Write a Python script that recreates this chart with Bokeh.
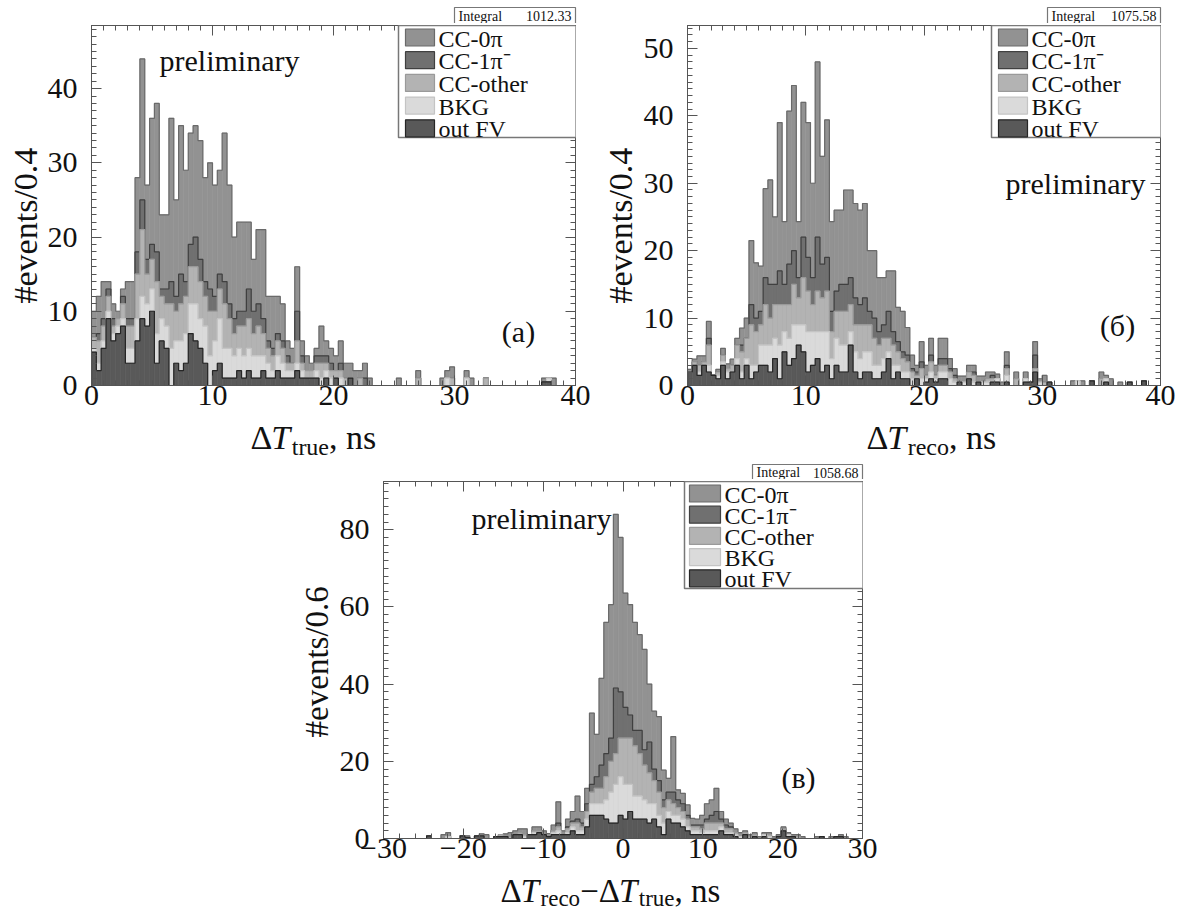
import numpy as np
from bokeh.plotting import figure
from bokeh.models import Range1d, FixedTicker, LinearAxis, Label, BoxAnnotation, Spacer
from bokeh.layouts import row, column
from bokeh.embed import file_html
from bokeh.resources import INLINE

FONT = "Liberation Serif"

# legend order (top to bottom) and stacking order (bottom to top)
SERIES = ["CC-0π", "CC-1π⁻", "CC-other", "BKG", "out FV"]
STACK = ["out FV", "BKG", "CC-other", "CC-1π⁻", "CC-0π"]
FILL = {"CC-0π": "#929292", "CC-1π⁻": "#707070", "CC-other": "#b3b3b3",
        "BKG": "#dadada", "out FV": "#595959"}
EDGE = {"CC-0π": "#6a6a6a", "CC-1π⁻": "#404040", "CC-other": "#9a9a9a",
        "BKG": "#c4c4c4", "out FV": "#262626"}

# ---------------- panel (a): dT_true, bins of 0.4 ns starting at 0 ----------------
A_BIN0, A_BINW = 0.0, 0.4
A_OUTFV = [4.5, 2, 5, 9, 6, 7, 8, 3, 3, 6,
           9, 8, 10, 3, 6, 5, 0, 3, 2, 3,
           7, 6, 5, 3, 0, 2, 3, 1, 1, 1,
           2, 1, 2, 1, 1, 2, 1, 1, 2, 1,
           1, 1, 2, 1, 1, 1, 1, 0, 1, 0,
           1, 0, 0, 1, 0, 0, 0, 0, 0, 0,
           0, 0, 0, 0, 0, 0, 0, 0, 0, 0,
           0, 0, 0, 0, 0, 0, 0, 0, 0, 0,
           0, 0, 0, 0, 0, 0, 0, 0, 0, 0,
           0, 0, 0, 0.5, 0.5, 0, 0, 0, 0, 0]
A_BKG = [0.5, 1, 1, 1, 1, 1, 1, 2, 2, 3,
         3, 3, 3, 4, 3, 3, 5, 3, 4, 4,
         4, 5, 4, 5, 4, 4, 6, 4, 4, 3,
         3, 3, 3, 3, 3, 2, 2, 1, 2, 2,
         1, 1, 1, 1, 0, 0, 1, 1, 1, 1,
         0, 1, 0, 0, 0, 0, 0, 0, 0, 0,
         0, 0, 0, 0, 0, 0, 0, 0, 0, 0,
         0, 0, 0, 1, 0, 0, 0, 1, 0, 0,
         0, 0, 0, 0, 0, 0, 0, 0, 0, 0,
         0, 0, 0, 0, 0.5, 0, 0, 0, 0, 0]
A_OTHER = [1.5, 3, 2, 2, 1, 1, 2, 3, 3, 6,
           9, 4, 4, 7, 3, 3, 6, 4, 5, 5,
           5, 5, 5, 4, 6, 4, 4, 6, 4, 3,
           3, 4, 4, 3, 4, 3, 2, 2, 2, 2,
           1, 1, 3, 1, 1, 1, 1, 2, 1, 1,
           1, 1, 1, 0, 0, 1, 0, 0, 0, 0,
           0, 0, 0, 0, 0, 0, 0, 1, 0, 0,
           0, 0, 0, 0, 1, 0, 0, 0, 0, 0,
           0, 1, 0, 0, 0, 0, 0, 0, 0, 0,
           0, 0, 0, 0, 0, 0, 0, 0, 0, 0]
A_1PI = [0, 1, 1, 1, 1, 0, 1, 1, 1, 3,
         4, 2, 2, 4, 1, 2, 3, 2, 4, 2,
         3, 4, 3, 2, 3, 2, 2, 3, 2, 2,
         2, 2, 4, 3, 3, 2, 1, 1, 1, 1,
         1, 0, 4, 1, 0, 0, 1, 1, 1, 1,
         0, 1, 0, 0, 0, 0, 1, 0, 0, 0,
         0, 0, 0, 0, 0, 0, 0, 0, 0, 0,
         0, 0, 0, 0, 0, 0, 0, 0, 0, 0,
         0, 0, 0, 0, 0, 0, 0, 0, 0, 0,
         0, 0, 0, 0, 0, 0, 0, 0, 0, 0]
A_0PI = [3.5, 5, 5, 1, 2, 1, 1, 5, 5, 10,
         19, 10, 17, 20, 10, 10, 22, 13, 20, 15,
         15, 15, 16, 14, 17, 15, 14, 20, 16, 11,
         12, 12, 9, 7, 10, 12, 6, 7, 5, 5,
         2, 2, 6, 2, 2, 1, 1, 4, 2, 2,
         2, 3, 2, 2, 2, 1, 2, 1, 0, 0,
         0, 0, 0, 1, 0, 0, 0, 1, 0, 0,
         0, 0, 1, 1, 1.5, 0, 0, 1, 1, 0,
         0, 0, 0, 0, 0, 0, 0, 0, 0, 0,
         0, 0, 0, 0.5, 0, 1, 0, 0, 0, 0]

# ---------------- panel (b): dT_reco, bins of 0.4 ns starting at 0 ----------------
B_BIN0, B_BINW = 0.0, 0.4
B_OUTFV = [2, 3, 1.5, 3, 2, 1.5, 1, 3, 1, 2,
           3, 1, 3, 1, 2, 3, 3, 2, 4, 1,
           5, 3, 4, 6, 5, 2, 3, 4, 2, 3,
           1, 3, 2, 2, 6, 2, 1, 2, 2, 1,
           1, 2, 4, 1, 2, 1, 1, 0, 1, 0,
           0.5, 1, 0.5, 1, 1, 0, 0, 0.5, 0, 1,
           0, 0.5, 0, 0, 0.5, 0.5, 0, 0.5, 0, 0,
           0, 0.5, 0.5, 2, 0, 0, 0.5, 0, 0, 0,
           0, 0, 0, 0, 0, 0.7, 0, 0, 0.5, 0,
           0, 0, 0, 0.5, 0, 0, 0.7, 0, 0, 0]
B_BKG = [0, 0, 0.5, 0, 1, 0, 0.5, 0.5, 1, 0,
         1, 1, 1, 2, 1, 3, 3, 4, 3, 5,
         3, 4, 5, 3, 4, 6, 5, 4, 6, 5,
         3, 4, 4, 4, 2, 3, 3, 3, 3, 2,
         2, 2, 1, 2, 1, 1, 1, 1, 0, 1,
         0.5, 1, 0.5, 1, 1, 1, 0.5, 0, 0.5, 0,
         0.5, 0, 0.5, 0.5, 0, 0.5, 0, 1, 0, 0,
         0, 0.5, 0, 0, 0.5, 0, 0, 0, 0, 0,
         0, 0, 0.7, 0, 0, 0, 0, 0, 0.5, 0,
         0, 0, 0, 0, 0, 0, 0, 0, 0, 0]
B_OTHER = [0, 0.5, 1, 0.5, 3, 0, 0.5, 1, 0.5, 1,
           2, 3, 3, 6, 5, 3, 6, 4, 5, 6,
           4, 5, 6, 4, 7, 6, 4, 6, 5, 6,
           4, 4, 5, 5, 4, 4, 5, 4, 4, 4,
           3, 3, 2, 3, 2, 2, 1.5, 1, 0.5, 1.5,
           0.5, 1.5, 0.5, 1, 1, 1, 0.5, 0, 0, 1,
           1, 0, 0, 0.5, 0.5, 0, 0, 1, 0, 1,
           0, 0, 0, 0.5, 0, 0.5, 0, 0, 0, 0,
           0, 0, 0, 0, 0, 0, 0, 1, 0, 0,
           0, 0, 0, 0, 0, 0, 0, 0, 0, 0]
B_1PI = [0, 0, 0, 0, 1, 0, 0, 0, 0, 0,
         0, 1, 0, 3, 2, 2, 4, 5, 3, 5,
         3, 6, 5, 3, 6, 5, 4, 8, 5, 5,
         3, 3, 4, 4, 4, 4, 3, 4, 2, 3,
         2, 2, 4, 2, 1.5, 1, 1, 0.5, 0.5, 1,
         0, 1, 0, 1, 1, 0.5, 0.5, 0, 0, 0,
         0.5, 0, 0, 0, 0.5, 0, 0, 0.5, 0, 0,
         0, 0, 0, 2, 0, 0, 0, 0, 0, 0,
         0, 0, 0, 0, 0, 0, 0, 0, 0, 0,
         0, 0, 0, 0, 0, 0, 0, 0, 0, 0]
B_0PI = [0.4, 0.4, 1.4, 0.9, 2.5, 0.1, 0.4, 1, 0.7, 0.9,
         1, 2.5, 3, 9.5, 8.2, 6.7, 13.2, 15.5, 10, 22,
         9.3, 22.7, 24.5, 8.3, 20, 20, 14, 26, 16, 20.4,
         13.3, 12, 11, 14, 13, 14, 14, 14, 9, 10,
         8, 7, 6, 9, 5.1, 6, 4.1, 2, 1, 3,
         1.5, 2.5, 1.5, 3, 3, 1.5, 1, 0.9, 0.9, 1,
         1, 0.9, 0.9, 1, 0.5, 0.7, 0.5, 2, 0, 1,
         0, 1, 0, 2, 0.5, 1, 0, 0, 0, 0,
         0, 0.7, 0, 0.7, 0, 0, 0, 1, 0.5, 1,
         0, 0.5, 0, 0, 0, 0, 0, 0, 0, 0]

# ------------- panel (c): dT_reco - dT_true, bins of 0.6 ns starting at -30 -------------
C_BIN0, C_BINW = -30.0, 0.6
C_OUTFV = [0, 0, 0, 0, 0, 0, 0, 0, 0, 0.7,
           0, 0, 0, 0, 0, 0, 0.7, 0.3, 0, 0.7,
           0.7, 0, 0, 0.5, 0.5, 0.5, 0, 1, 1, 0,
           1, 1, 1.5, 1, 0.5, 1, 1, 1, 1, 2,
           1, 1, 3, 6, 6, 6, 5, 4, 4, 6,
           5, 7, 5, 5, 5, 4, 5, 3, 1, 5,
           4, 4, 3, 2, 1, 1, 1, 1, 1, 1,
           2, 1, 1, 0.5, 0, 1, 0, 0.5, 0, 0.5,
           0, 0, 0.5, 2, 0.5, 0.5, 0, 0, 0, 0,
           0, 0.5, 0, 0, 0.5, 0.5, 0, 0, 0, 0]
C_BKG = [0, 0, 0, 0, 0, 0, 0, 0, 0, 0,
         0, 0, 0, 0.5, 0, 0, 0, 0, 0, 0,
         0, 0, 0, 0, 0, 0, 0, 0, 0, 0.5,
         0, 0.5, 0, 0, 0, 0.5, 1, 0, 0.5, 1,
         1, 1, 2, 3, 3, 3, 5, 8, 10, 10,
         9, 7, 6, 6, 5, 5, 4, 3, 3, 2,
         2, 2, 2, 1, 1, 1, 0.5, 1, 1, 1,
         1, 0.5, 0.5, 0.5, 0.5, 0, 0, 0, 0, 0.5,
         0.5, 0, 0, 0, 0.5, 0, 0, 0, 0, 0,
         0, 0, 0, 0, 0, 0, 0, 0, 0, 0]
C_OTHER = [0, 0, 0, 0, 0, 0, 0, 0, 0, 0,
           0, 0, 0, 0, 0, 0, 0, 0, 0, 0,
           0, 0, 0, 0, 0.5, 0, 0.5, 0, 0.5, 0.5,
           0, 0.5, 0.5, 0, 0, 0.5, 1, 0, 1, 1,
           2, 1, 2, 3, 4, 4, 6, 8, 8, 10,
           12, 12, 13, 11, 9, 8, 6, 6, 4, 3,
           3, 2, 2, 2, 1, 1, 1, 2, 2, 2,
           1, 1, 1, 0.5, 0, 0.5, 0.5, 0.5, 0, 0,
           0.5, 0, 0, 0.5, 0, 0, 0.5, 0, 0, 0,
           0, 0, 0, 0, 0, 0, 0, 0, 0, 0]
C_1PI = [0, 0, 0, 0, 0, 0, 0, 0, 0, 0,
         0, 0, 0, 0, 0, 0, 0, 0, 0, 0,
         0, 0, 0, 0, 0, 0, 0, 0, 0, 0,
         0, 0, 0, 0, 0, 0, 1, 0, 0.5, 0.5,
         1, 1, 2, 2, 3, 6, 6, 6, 17, 12,
         8, 6, 4, 6, 4, 8, 3, 3, 2, 2,
         3, 2, 2, 1, 0.5, 0.5, 1, 1, 2, 3,
         1, 1, 0.5, 0, 0, 0, 0, 0, 0, 0,
         0, 0, 0, 0, 0, 0, 0, 0, 0, 0,
         0, 0, 0, 0, 0, 0, 0, 0, 0, 0]
C_0PI = [0, 0, 0, 0, 0, 0, 0, 0, 0, 0,
         0, 0, 1, 1, 0, 0, 0, 0.4, 0, 0,
         0.5, 1, 0, 0, 0, 0.7, 1, 1, 1, 1.5,
         0, 1, 1, 1, 0.8, 1.5, 5.5, 1, 2, 2.5,
         6, 3, 4, 18.5, 11, 22.5, 34, 34.6, 45, 40,
         29.6, 28.6, 28, 24.8, 26, 15, 15, 16.6, 7.7, 3.6,
         14.4, 2.6, 2.7, 2.7, 1.7, 1.5, 2.5, 4, 4, 6,
         2, 1.5, 1, 1, 1, 0.5, 0.5, 0.5, 0.5, 0.5,
         0.5, 0.5, 0.5, 0.5, 0.5, 0.5, 0.5, 0.5, 0, 0,
         0.5, 0, 0, 0.5, 0, 0.5, 0.5, 0, 0, 0]

INTEGRALS = {"a": "1012.33", "b": "1075.58", "c": "1058.68"}

# ------------------------- helpers -------------------------
EM = {'Δ': 0.612, 'T': 0.556, 't': 0.278, 'r': 0.333, 'u': 0.5, 'e': 0.444,
      'c': 0.444, 'o': 0.5, ',': 0.25, ' ': 0.25, 'n': 0.5, 's': 0.389, '−': 0.564}
TICK_PX = 30


def twidth(s, size):
    return sum(EM.get(ch, 0.5) for ch in s) * size


def text_fig(x0, y0, w, h):
    """A blank figure whose data coordinates are page pixels (y downwards)."""
    f = figure(width=w, height=h, x_range=Range1d(x0, x0 + w), y_range=Range1d(y0 + h, y0),
               output_backend="svg", toolbar_location=None, min_border=0,
               x_axis_type=None, y_axis_type=None)
    f.outline_line_color = None
    f.background_fill_color = "white"
    f.border_fill_color = "white"
    return f


def dlabel(f, X, Y, s, size, align="left", style="normal", angle=0.0):
    f.add_layout(Label(x=X, y=Y, text=s, text_font=FONT, text_font_size=f"{size}px",
                       text_font_style=style, text_align=align, text_baseline="middle",
                       text_color="#111111", angle=angle))


def dbox(f, X1, Y1, X2, Y2, fill, line, lw):
    f.add_layout(BoxAnnotation(left=X1, right=X2, top=Y1, bottom=Y2,
                               fill_color=fill, fill_alpha=1.0,
                               line_color=line, line_alpha=1.0, line_width=lw))


def scr(g, X, Y):
    return X - g["fl"], g["fb"] - Y


def sbox(p, g, X1, Y1, X2, Y2, fill, line, lw=1.0):
    l, t = scr(g, X1, Y1)
    r, b = scr(g, X2, Y2)
    p.add_layout(BoxAnnotation(left=l, right=r, top=t, bottom=b,
                               left_units="screen", right_units="screen",
                               top_units="screen", bottom_units="screen",
                               fill_color=fill, fill_alpha=1.0,
                               line_color=line, line_alpha=1.0, line_width=lw))


def slabel(p, g, X, Y, s, size, align="left"):
    sx, sy = scr(g, X, Y)
    p.add_layout(Label(x=sx, y=sy, x_units="screen", y_units="screen", text=s,
                       text_font=FONT, text_font_size=f"{size}px",
                       text_align=align, text_baseline="middle", text_color="#111111"))


def style_axis(ax, ticks, minor, labels, show):
    ax.ticker = FixedTicker(ticks=ticks, minor_ticks=minor)
    ax.major_tick_in = 10
    ax.major_tick_out = 0
    ax.minor_tick_in = 5
    ax.minor_tick_out = 0
    ax.axis_line_color = "#555555"
    ax.major_tick_line_color = "#555555"
    ax.minor_tick_line_color = "#555555"
    ax.major_label_text_font = FONT
    ax.major_label_text_color = "#111111"
    if show:
        ax.major_label_text_font_size = f"{TICK_PX}px"
        ax.major_label_overrides = {t: labels.get(t, "") for t in ticks}
    else:
        ax.major_label_text_font_size = "1px"
        ax.major_label_overrides = {t: "" for t in ticks}
        ax.major_label_standoff = 0


def ticks(lo, hi, major, minor, label_step):
    maj = [float(v) for v in np.arange(lo, hi + 1e-9, major)]
    mnr = [float(v) for v in np.arange(lo, hi + 1e-9, minor)]
    labs = {}
    for t in maj:
        if abs(round(t / label_step) * label_step - t) < 1e-6:
            labs[t] = f"{int(round(t))}".replace("-", "−")
    return maj, mnr, labs


def main_fig(cfg):
    g = cfg["geom"]
    x0, y0 = g["x0"] + g["lw"], g["y0"] + g["th"]
    w, h = g["w"] - g["lw"], g["mh"]
    p = figure(width=w, height=h,
               x_range=Range1d(*cfg["xr"]), y_range=Range1d(*cfg["yr"]),
               output_backend="svg", toolbar_location=None,
               min_border_left=g["fl"] - x0, min_border_right=x0 + w - g["fr"],
               min_border_top=g["ft"] - y0, min_border_bottom=y0 + h - g["fb"])
    p.xgrid.visible = False
    p.ygrid.visible = False
    p.outline_line_color = "#555555"
    p.background_fill_color = "white"
    p.border_fill_color = "white"

    # stacked histogram drawn ROOT-style: cumulative sums, from the top layer down
    comps = cfg["data"]
    n = len(comps["CC-0π"])
    edges = cfg["bin0"] + cfg["binw"] * np.arange(n + 1)
    left, right = edges[:-1], edges[1:]
    run = np.zeros(n)
    cum = {}
    for name in STACK:
        run = run + np.asarray(comps[name], dtype=float)
        cum[name] = run.copy()
    for name in reversed(STACK):
        top = cum[name]
        p.quad(left=left, right=right, bottom=0, top=top,
               fill_color=FILL[name], line_color=FILL[name], line_width=0.6)
        xs = np.concatenate([[edges[0]], left, [edges[-1], edges[-1]]])
        ys = np.concatenate([[0.0], top, [top[-1], 0.0]])
        p.step(xs, ys, mode="after", line_color=EDGE[name], line_width=1.2)

    xt, xm, xl = cfg["xticks"]
    yt, ym, yl = cfg["yticks"]
    style_axis(p.xaxis[0], xt, xm, xl, True)
    p.xaxis[0].major_label_standoff = 0
    style_axis(p.yaxis[0], yt, ym, yl, True)
    p.yaxis[0].major_label_standoff = 14
    top_ax = LinearAxis()
    style_axis(top_ax, xt, xm, xl, False)
    p.add_layout(top_ax, "above")
    right_ax = LinearAxis()
    style_axis(right_ax, yt, ym, yl, False)
    p.add_layout(right_ax, "right")

    # legend (inside the frame, top right)
    lx1, ly1, lx2, ly2 = cfg["lbox"]
    sbox(p, g, lx1, ly1, lx2, ly2, "white", "#777777", 1.5)
    sw1, sw2, tx = cfg["swatch"]
    for k, name in enumerate(SERIES):
        cy = cfg["row0"] + k * cfg["rowh"]
        sbox(p, g, sw1, cy - 8.5, sw2, cy + 8.5, FILL[name], EDGE[name], 1.2)
        slabel(p, g, tx, cy + 1, name, 24)

    px, py = cfg["prelim"]
    slabel(p, g, px, py, "preliminary", 30)
    tx_, ty_, tag = cfg["tag"]
    slabel(p, g, tx_, ty_, tag, 30, align="center")
    return p


def panel(cfg):
    g = cfg["geom"]
    # strip above the frame: the "Integral" box
    top = text_fig(g["x0"], g["y0"], g["w"], g["th"])
    ix1, iy1, ix2, iy2 = cfg["ibox"]
    dbox(top, ix1, iy1, ix2, iy2, "white", "#777777", 1.2)
    dlabel(top, ix1 + 4, (iy1 + iy2) / 2 + 0.5, "Integral", 14)
    dlabel(top, ix2 - 4, (iy1 + iy2) / 2 + 0.5, cfg["integral"], 14, align="right")
    # strip left of the frame: y title (reads bottom to top, starts at the anchor)
    lft = text_fig(g["x0"], g["y0"] + g["th"], g["lw"], g["mh"])
    yx, yy, ytitle = cfg["ytitle"]
    dlabel(lft, yx, yy, ytitle, cfg["title_px"], align="left", angle=np.pi / 2)
    # strip below: x title with subscripts
    bot = text_fig(g["x0"], g["y0"] + g["th"] + g["mh"], g["w"], g["bh"])
    X, Y = cfg["xtitle_pos"]
    tp, sp, sdy = cfg["title_px"], cfg["sub_px"], cfg["sub_dy"]
    for s, kind in cfg["xtitle"]:
        if kind == "sub":
            size, dy, style = sp, sdy, "normal"
        elif kind == "it":
            size, dy, style = tp, 0, "italic"
        else:
            size, dy, style = tp, 0, "normal"
        dlabel(bot, X, Y + dy, s, size, style=style)
        X += twidth(s, size) + (1.5 if kind == "it" else 0)
    main = main_fig(cfg)
    return column(top, row(lft, main), bot)


PANELS = [
    dict(key="a",
         data={"out FV": A_OUTFV, "BKG": A_BKG, "CC-other": A_OTHER, "CC-1π⁻": A_1PI, "CC-0π": A_0PI},
         bin0=A_BIN0, binw=A_BINW, xr=(0, 40), yr=(0, 48.5),
         xticks=ticks(0, 40, 10, 1, 10), yticks=ticks(0, 48, 10, 1, 10),
         geom=dict(x0=0, y0=0, w=592, th=23, lw=44, mh=395, bh=45,
                   fl=89, fr=575, ft=25, fb=385),
         ibox=(454, 7, 575, 23), lbox=(396, 25, 575, 137), swatch=(403, 432, 436),
         row0=37, rowh=22.7, prelim=(157, 60), tag=(516, 331, "(a)"),
         ytitle=(25, 328, "#events/0.4"), xtitle_pos=(250, 437),
         title_px=34, sub_px=24, sub_dy=9,
         xtitle=[("Δ", "n"), ("T", "it"), ("true", "sub"), (", ns", "n")]),
    dict(key="b",
         data={"out FV": B_OUTFV, "BKG": B_BKG, "CC-other": B_OTHER, "CC-1π⁻": B_1PI, "CC-0π": B_0PI},
         bin0=B_BIN0, binw=B_BINW, xr=(0, 40), yr=(0, 53.4),
         xticks=ticks(0, 40, 10, 1, 10), yticks=ticks(0, 53, 10, 1, 10),
         geom=dict(x0=592, y0=0, w=590, th=23, lw=48, mh=395, bh=45,
                   fl=685, fr=1160, ft=25, fb=385),
         ibox=(1047, 7, 1160, 23), lbox=(989, 25, 1160, 137), swatch=(996, 1025, 1029),
         row0=37, rowh=22.7, prelim=(1003, 183), tag=(1115, 325, "(б)"),
         ytitle=(620, 328, "#events/0.4"), xtitle_pos=(866, 437),
         title_px=34, sub_px=24, sub_dy=9,
         xtitle=[("Δ", "n"), ("T", "it"), ("reco", "sub"), (", ns", "n")]),
    dict(key="c",
         data={"out FV": C_OUTFV, "BKG": C_BKG, "CC-other": C_OTHER, "CC-1π⁻": C_1PI, "CC-0π": C_0PI},
         bin0=C_BIN0, binw=C_BINW, xr=(-30, 30), yr=(0, 92.5),
         xticks=ticks(-30, 30, 10, 2, 10), yticks=ticks(0, 92, 20, 2, 20),
         geom=dict(x0=278, y0=463, w=612, th=16, lw=58, mh=392, bh=40,
                   fl=381, fr=862, ft=481, fb=838),
         ibox=(752, 464, 862, 479), lbox=(682, 481, 862, 588), swatch=(687, 718, 722),
         row0=493, rowh=21.2, prelim=(469, 518), tag=(796, 777, "(в)"),
         ytitle=(316, 760, "#events/0.6"), xtitle_pos=(500, 890),
         title_px=33, sub_px=23, sub_dy=8,
         xtitle=[("Δ", "n"), ("T", "it"), ("reco", "sub"), ("−Δ", "n"), ("T", "it"),
                 ("true", "sub"), (", ns", "n")]),
]

cols = {}
for cfg in PANELS:
    cfg["integral"] = INTEGRALS[cfg["key"]]
    cols[cfg["key"]] = panel(cfg)

layout = column(row(cols["a"], cols["b"]),
                row(Spacer(width=278, height=448), cols["c"]))

open("out.html", "w").write(file_html(layout, INLINE, title="stacked histograms"))
